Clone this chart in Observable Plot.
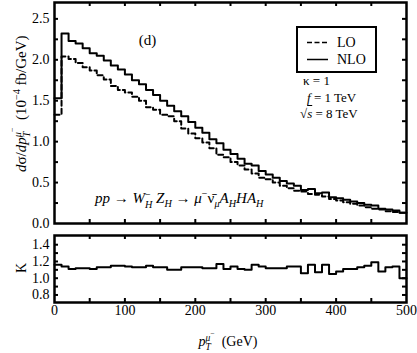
<!DOCTYPE html>
<html><head><meta charset="utf-8">
<script src="https://cdn.jsdelivr.net/npm/d3@7"></script>
<script src="https://cdn.jsdelivr.net/npm/@observablehq/plot@0.6"></script>
<style>
body{margin:0;background:#fff;}
#c{position:relative;width:417px;height:353px;font-family:"Liberation Serif","DejaVu Serif",serif;color:#000;overflow:hidden;}
#c svg.p{position:absolute;left:0;overflow:visible;}
.lab{position:absolute;white-space:nowrap;font-size:13px;line-height:1;}
.st{display:inline-block;vertical-align:middle;font-size:0.68em;line-height:0.95;position:relative;top:-0.05em;}
.st span{display:block;}
sub,sup{font-size:0.68em;line-height:0;}
</style></head><body><div id="c"></div>
<script>
// bin lower edges (GeV), 10 GeV bins
const binStart = [0,10,20,30,40,50,60,70,80,90,100,110,120,130,140,150,160,170,180,190,200,210,220,230,240,250,260,270,280,290,300,310,320,330,340,350,360,370,380,390,400,410,420,430,440,450,460,470,480,490];
const binEnd = 500;
// NLO distribution (10^-4 fb/GeV)
const nlo = [1.53,2.32,2.23,2.20,2.14,2.08,2.05,1.99,1.93,1.88,1.82,1.75,1.70,1.63,1.57,1.50,1.44,1.37,1.31,1.24,1.17,1.11,1.03,0.98,0.90,0.85,0.79,0.73,0.71,0.64,0.60,0.56,0.52,0.49,0.46,0.41,0.42,0.37,0.38,0.32,0.31,0.29,0.27,0.25,0.23,0.22,0.18,0.17,0.16,0.13];
// LO distribution (10^-4 fb/GeV)
const lo = [1.33,2.04,2.01,1.96,1.91,1.87,1.81,1.76,1.68,1.63,1.60,1.55,1.50,1.42,1.39,1.33,1.31,1.25,1.16,1.10,1.04,0.99,0.92,0.84,0.81,0.75,0.71,0.66,0.61,0.56,0.54,0.50,0.46,0.43,0.40,0.39,0.36,0.35,0.33,0.30,0.28,0.26,0.24,0.22,0.20,0.18,0.17,0.15,0.14,0.13];
// K factor
const kfac = [1.16,1.14,1.11,1.12,1.12,1.11,1.13,1.13,1.15,1.15,1.14,1.13,1.13,1.15,1.13,1.13,1.10,1.10,1.13,1.13,1.13,1.12,1.12,1.17,1.11,1.14,1.11,1.10,1.16,1.14,1.12,1.12,1.12,1.14,1.14,1.06,1.16,1.07,1.16,1.05,1.08,1.11,1.11,1.13,1.15,1.19,1.08,1.13,1.14,1.00];
// tick values
const xLabels = [0,100,200,300,400,500];
const xTicks = [50,100,150,200,250,300,350,400,450];
const yLabelsTop = [0,0.5,1.0,1.5,2.0,2.5];
const yTicksTop = [0.25,0.5,0.75,1.0,1.25,1.5,1.75,2.0,2.25,2.5];
const yLabelsK = [0.8,1.0,1.2,1.4];
const yTicksK = [0.8,0.9,1.0,1.1,1.2,1.3,1.4];

const steps = vals => [...binStart.map((x,i)=>({x, y: vals[i]})), {x: binEnd, y: vals[vals.length-1]}];

const W = 417, ML = 54, MR = 11, TL = 4;
const PW = W - ML - MR;
const font = "'Liberation Serif','DejaVu Serif',serif";

function frameTicks(ph, yt){
  return [
    Plot.tickX(xTicks, {insetBottom: ph - TL, strokeWidth: 2}),
    Plot.tickX(xTicks, {insetTop: ph - TL, strokeWidth: 2}),
    Plot.tickY(yt, {insetRight: PW - TL, strokeWidth: 2}),
    Plot.tickY(yt, {insetLeft: PW - TL, strokeWidth: 2}),
    Plot.frame({strokeWidth: 2.5})
  ];
}

const H1 = 228, MT1 = 2, MB1 = 5;
const topPlot = Plot.plot({
  width: W, height: H1, marginLeft: ML, marginRight: MR, marginTop: MT1, marginBottom: MB1,
  x: {domain: [0, 500], axis: null},
  y: {domain: [0, 2.7], axis: null},
  style: {fontFamily: font, fontSize: "14px", background: "transparent", color: "#000", overflow: "visible"},
  marks: [
    Plot.axisY(yLabelsTop, {tickSize: 0, tickPadding: 5, tickFormat: d3.format(".1f"), label: null, fontSize: 14}),
    Plot.line(steps(lo), {x: "x", y: "y", curve: "step-after", stroke: "#000", strokeWidth: 2, strokeDasharray: "5,3"}),
    Plot.line(steps(nlo), {x: "x", y: "y", curve: "step-after", stroke: "#000", strokeWidth: 2}),
    ...frameTicks(H1 - MT1 - MB1, yTicksTop)
  ]
});
topPlot.classList.add("p");
topPlot.style.top = "0px";

const H2 = 125, MT2 = 7, MB2 = 51;
const botPlot = Plot.plot({
  width: W, height: H2, marginLeft: ML, marginRight: MR, marginTop: MT2, marginBottom: MB2,
  x: {domain: [0, 500], axis: null},
  y: {domain: [0.71, 1.51], axis: null},
  style: {fontFamily: font, fontSize: "14px", background: "transparent", color: "#000", overflow: "visible"},
  marks: [
    Plot.axisY(yLabelsK, {tickSize: 0, tickPadding: 5, tickFormat: d3.format(".1f"), label: null, fontSize: 14}),
    Plot.axisX(xLabels, {tickSize: 0, tickPadding: 3, label: null, fontSize: 14}),
    Plot.line(steps(kfac), {x: "x", y: "y", curve: "step-after", stroke: "#000", strokeWidth: 2}),
    ...frameTicks(H2 - MT2 - MB2, yTicksK)
  ]
});
botPlot.classList.add("p");
botPlot.style.top = "228px";

const c = document.getElementById("c");
c.appendChild(topPlot);
c.appendChild(botPlot);

function lab(html, css){
  const d = document.createElement("div");
  d.className = "lab";
  d.innerHTML = html;
  Object.assign(d.style, css);
  c.appendChild(d);
  return d;
}

// y-axis title (rotated)
const yl = lab('<i>d</i>σ/<i>dp</i><span class="st"><span><i>μ</i><sup style="font-size:0.8em;position:relative;top:-0.1em">−</sup></span><span><i>T</i></span></span>&nbsp; (10<sup>−4</sup> fb/GeV)', {fontSize: "15px"});
{
  const r = yl.getBoundingClientRect();
  yl.style.transformOrigin = "center center";
  yl.style.left = (22 - r.width/2) + "px";
  yl.style.top = (104 - r.height/2) + "px";
  yl.style.transform = "rotate(-90deg)";
}
// K title
const kl = lab('K', {fontSize: "14px"});
{
  const r = kl.getBoundingClientRect();
  kl.style.transformOrigin = "center center";
  kl.style.left = (22 - r.width/2) + "px";
  kl.style.top = (268 - r.height/2) + "px";
  kl.style.transform = "rotate(-90deg)";
}
// x title
const xl = lab('<i>p</i><span class="st"><span><i>μ</i><sup style="font-size:0.8em;position:relative;top:-0.1em">−</sup></span><span><i>T</i></span></span>&nbsp; (GeV)', {fontSize: "14px"});
{
  const r = xl.getBoundingClientRect();
  xl.style.left = (228 - r.width/2) + "px";
  xl.style.top = (343 - r.height/2) + "px";
}
// (d)
const dl = lab('(d)', {fontSize: "15px"});
{
  const r = dl.getBoundingClientRect();
  dl.style.left = (147.5 - r.width/2) + "px";
  dl.style.top = (40 - r.height/2) + "px";
}
// process
const pl = lab('<i>pp</i> → <i>W</i><span class="st"><span>−</span><span><i>H</i></span></span> <i>Z</i><sub><i>H</i></sub> → <i>μ</i><sup>−</sup>ν̄<sub><i>μ</i></sub><i>A</i><sub><i>H</i></sub><i>HA</i><sub><i>H</i></sub>', {fontSize: "15px"});
{
  const r = pl.getBoundingClientRect();
  pl.style.left = "95px";
  pl.style.top = (200 - r.height/2) + "px";
}
// parameters
const p1 = lab('κ = 1', {fontSize: "13px"});
const p2 = lab('<i>f</i> = 1 TeV', {fontSize: "13px"});
const p3 = lab('√<i style="text-decoration:overline">s</i> = 8 TeV', {fontSize: "13px"});
[[p1, 303, 80], [p2, 307, 97], [p3, 300, 113]].forEach(([el, x, y]) => {
  const r = el.getBoundingClientRect();
  el.style.left = x + "px";
  el.style.top = (y - r.height/2) + "px";
});

// legend
const lg = document.createElement("div");
Object.assign(lg.style, {position: "absolute", left: "296px", top: "26px", width: "77px", height: "43px", border: "2px solid #000", boxSizing: "content-box"});
c.appendChild(lg);
const svgNS = "http://www.w3.org/2000/svg";
const ls = document.createElementNS(svgNS, "svg");
ls.setAttribute("width", 417); ls.setAttribute("height", 353);
Object.assign(ls.style, {position: "absolute", left: "0px", top: "0px", pointerEvents: "none"});
[[42.5, "5,2.5"], [59.5, null]].forEach(([y, dash]) => {
  const l = document.createElementNS(svgNS, "line");
  l.setAttribute("x1", 307); l.setAttribute("x2", 328);
  l.setAttribute("y1", y); l.setAttribute("y2", y);
  l.setAttribute("stroke", "#000"); l.setAttribute("stroke-width", 1.5);
  if (dash) l.setAttribute("stroke-dasharray", dash);
  ls.appendChild(l);
});
c.appendChild(ls);
[["LO", 42.5], ["NLO", 59.5]].forEach(([t, y]) => {
  const el = lab(t, {fontSize: "14px"});
  const r = el.getBoundingClientRect();
  el.style.left = "337px";
  el.style.top = (y - r.height/2) + "px";
});
</script></body></html>
